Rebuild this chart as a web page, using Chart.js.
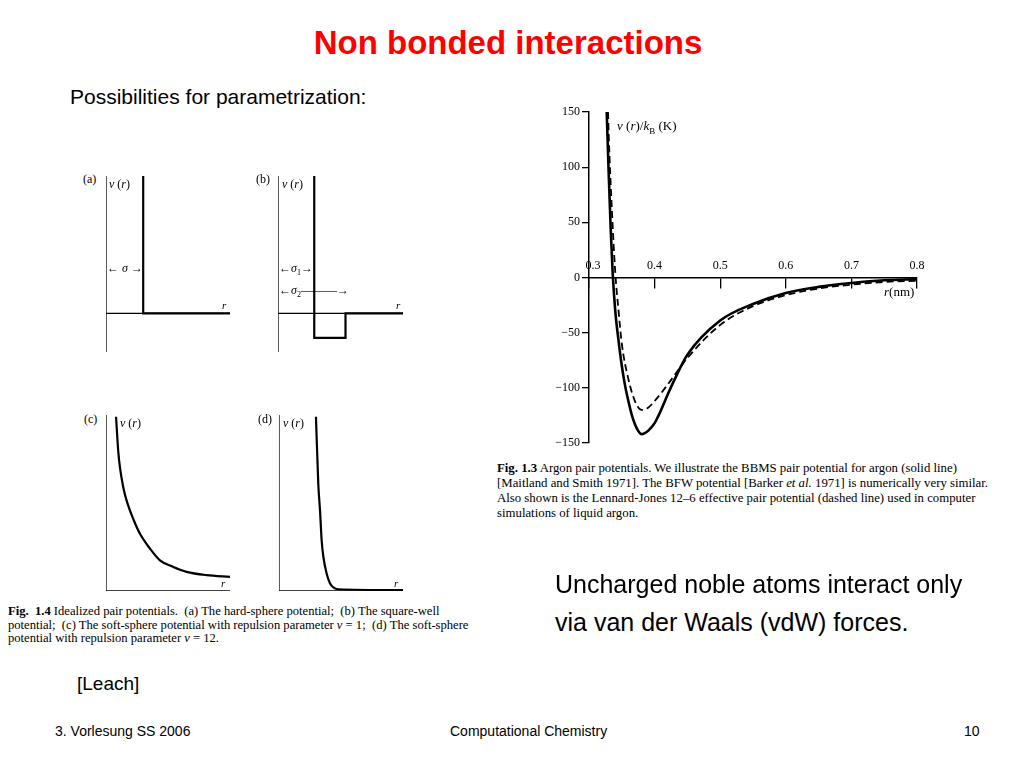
<!DOCTYPE html>
<html><head><meta charset="utf-8">
<script src="https://cdn.jsdelivr.net/npm/chart.js@4"></script>
<style>
body{margin:0;width:1024px;height:768px;background:#fff;position:relative;overflow:hidden;font-family:"Liberation Sans",Arial,sans-serif}
.t{position:absolute;white-space:nowrap;color:#000}
.s{font-family:"Liberation Serif","Times New Roman",serif}
canvas{position:absolute}
.cv{position:absolute}
</style></head><body>
<div class="t" style="left:0;width:1016px;top:24px;text-align:center;color:#ff0000;font-weight:bold;font-size:33px">Non bonded interactions</div>
<div class="t" style="left:70px;top:85px;font-size:21px">Possibilities for parametrization:</div>

<div class="cv" style="left:540px;top:100px;width:400px;height:360px"><canvas id="main"></canvas></div>
<div class="t s" style="left:617px;top:118px;font-size:13px"><i>v</i> (<i>r</i>)/<i>k</i><sub style="font-size:9px">B</sub> (K)</div>
<div class="t s" style="left:884px;top:284px;font-size:13px"><i>r</i>(nm)</div>
<div class="t s" style="left:497px;top:461px;font-size:12.8px;line-height:15px"><b>Fig. 1.3</b> Argon pair potentials. We illustrate the BBMS pair potential for argon (solid line)<br>[Maitland and Smith 1971]. The BFW potential [Barker <i>et al.</i> 1971] is numerically very similar.<br>Also shown is the Lennard-Jones 12–6 effective pair potential (dashed line) used in computer<br>simulations of liquid argon.</div>

<div class="cv" style="left:102px;top:172px;width:132px;height:184px"><canvas id="pa"></canvas></div>
<div class="cv" style="left:274px;top:172px;width:133px;height:184px"><canvas id="pb"></canvas></div>
<div class="cv" style="left:102px;top:411px;width:132px;height:184px"><canvas id="pc"></canvas></div>
<div class="cv" style="left:275px;top:411px;width:132px;height:184px"><canvas id="pd"></canvas></div>

<div class="t s" style="left:83px;top:172px;font-size:12px">(a)</div>
<div class="t s" style="left:109px;top:177px;font-size:12px"><i>v</i> (<i>r</i>)</div>
<div class="t s" style="left:107px;top:261px;font-size:12px">← <i>σ</i> →</div>
<div class="t s" style="left:222px;top:299px;font-size:11px"><i>r</i></div>
<div class="t s" style="left:256px;top:172px;font-size:12px">(b)</div>
<div class="t s" style="left:282px;top:177px;font-size:12px"><i>v</i> (<i>r</i>)</div>
<div class="t s" style="left:279px;top:261px;font-size:12px">←<i>σ</i><sub style="font-size:8px">1</sub>→</div>
<div class="t s" style="left:279px;top:283px;font-size:12px">←<i>σ</i><sub style="font-size:8px">2</sub>———→</div>
<div class="t s" style="left:396px;top:299px;font-size:11px"><i>r</i></div>
<div class="t s" style="left:84px;top:412px;font-size:12px">(c)</div>
<div class="t s" style="left:120px;top:416px;font-size:12px"><i>v</i> (<i>r</i>)</div>
<div class="t s" style="left:221px;top:577px;font-size:11px"><i>r</i></div>
<div class="t s" style="left:258px;top:412px;font-size:12px">(d)</div>
<div class="t s" style="left:283px;top:416px;font-size:12px"><i>v</i> (<i>r</i>)</div>
<div class="t s" style="left:394px;top:577px;font-size:11px"><i>r</i></div>
<div class="t s" style="left:8px;top:605px;font-size:12.6px;line-height:13.5px"><b>Fig. &nbsp;1.4</b> Idealized pair potentials. &nbsp;(a) The hard-sphere potential; &nbsp;(b) The square-well<br>potential; &nbsp;(c) The soft-sphere potential with repulsion parameter <i>ν</i> = 1; &nbsp;(d) The soft-sphere<br>potential with repulsion parameter <i>ν</i> = 12.</div>

<div class="t" style="left:555px;top:570px;font-size:25px">Uncharged noble atoms interact only</div>
<div class="t" style="left:555px;top:608px;font-size:25px">via van der Waals (vdW) forces.</div>
<div class="t" style="left:77px;top:673px;font-size:19px">[Leach]</div>
<div class="t" style="left:55px;top:723px;font-size:14px">3. Vorlesung SS 2006</div>
<div class="t" style="left:450px;top:723px;font-size:14px">Computational Chemistry</div>
<div class="t" style="left:964px;top:723px;font-size:14px">10</div>

<script>
// Argon pair potentials (Fig 1.3)
const rSolid = [0.327,0.33,0.333,0.336,0.34,0.345,0.35,0.355,0.36,0.365,0.37,0.375,0.38,0.385,0.39,0.40,0.41,0.42,0.43,0.45,0.50,0.55,0.60,0.65,0.70,0.75,0.80];
const vSolid = [150,95,45,5,-30,-57,-80,-98,-112,-124,-133,-139,-142,-141,-139,-132,-120,-106,-93,-70,-39,-24,-14,-8.5,-5,-2.5,-1.5];
const rDashed = [0.329,0.33,0.335,0.34,0.345,0.35,0.36,0.37,0.38,0.39,0.40,0.42,0.45,0.50,0.55,0.60,0.65,0.70,0.75,0.80];
const vDashed = [150,130,60,5,-30,-60,-92,-112,-120,-118,-112,-97,-73,-43,-26,-16,-10,-6.5,-4,-3];
const xTicks = [0.3,0.4,0.5,0.6,0.7,0.8];
const yTicks = [-150,-100,-50,0,50,100,150];
// Idealized potentials (Fig 1.4), schematic units
const rA = [3,3,10], vA = [7.8,0,0];
const rB = [2.9,2.9,5.4,5.4,10], vB = [7.8,-1.4,-1.4,0,0];
const rC = [0.81,0.99,1.13,1.40,1.67,2.20,2.74,3.55,4.35,5.43,6.5,8.12,10];
const vC = [10,8.0,7.06,5.93,5.17,4.13,3.28,2.43,1.76,1.38,1.10,0.91,0.81];
const rD = [2.98,3.17,3.31,3.44,3.58,3.84,4.11,4.38,4.78,10];
const vD = [10,6.12,4.6,2.9,1.95,1.0,0.44,0.21,0.1,0.05];

const pts=(xs,ys)=>xs.map((x,i)=>({x,y:ys[i]}));
const serif='"Liberation Serif","Times New Roman",serif';
Chart.defaults.animation=false;

const xLabels={id:'xl',afterDraw(c){const x=c.scales.x,y=c.scales.y,ctx=c.ctx;ctx.save();ctx.font='12px '+serif;ctx.fillStyle='#000';ctx.textAlign='center';ctx.textBaseline='bottom';
 const y0=y.getPixelForValue(0);xTicks.forEach(v=>{let px=x.getPixelForValue(v);if(v===0.3)px+=4;ctx.fillText(v.toFixed(1),px,y0-6);});ctx.restore();}};

new Chart(document.getElementById('main'),{type:'scatter',
 data:{datasets:[
  {data:pts(rSolid,vSolid),showLine:true,borderColor:'#000',borderWidth:2.6,pointRadius:0,cubicInterpolationMode:'monotone'},
  {data:pts(rDashed,vDashed),showLine:true,borderColor:'#000',borderWidth:1.8,borderDash:[7,4],pointRadius:0,cubicInterpolationMode:'monotone'}]},
 options:{responsive:true,maintainAspectRatio:false,layout:{padding:{top:12,right:23,bottom:17,left:0}},
  plugins:{legend:{display:false},tooltip:{enabled:false}},
  scales:{
   x:{type:'linear',min:0.3,max:0.8,position:{y:0},afterBuildTicks:s=>{s.ticks=xTicks.map(v=>({value:v}));},
      ticks:{display:false},grid:{drawOnChartArea:false,tickLength:10,color:'#000',lineWidth:1.3},border:{color:'#000',width:1.5}},
   y:{min:-150,max:150,afterBuildTicks:s=>{s.ticks=yTicks.map(v=>({value:v}));},afterFit:s=>{s.width=49;},
      ticks:{color:'#000',font:{family:serif,size:12},padding:2,callback:v=>v<0?'\u2212'+(-v):v},
      grid:{drawOnChartArea:false,tickLength:7,color:'#000',lineWidth:1.3},border:{color:'#000',width:1.5}}}},
 plugins:[xLabels]});

function small(id,xs,ys,ymin,ymax){
 const axes=[{data:[{x:0,y:ymin},{x:0,y:ymax}]},{data:[{x:0,y:0},{x:10,y:0}]}];
 const ds=axes.map(a=>({...a,showLine:true,borderColor:'#000',borderWidth:1.3,pointRadius:0}));
 ds.push({data:pts(xs,ys),showLine:true,borderColor:'#000',borderWidth:2.2,pointRadius:0,cubicInterpolationMode:'monotone'});
 new Chart(document.getElementById(id),{type:'scatter',data:{datasets:ds},
  options:{responsive:true,maintainAspectRatio:false,layout:{padding:4},plugins:{legend:{display:false},tooltip:{enabled:false}},
   scales:{x:{display:false,min:0,max:10},y:{display:false,min:ymin,max:ymax}}}});
}
small('pa',rA,vA,-2.2,7.8);
small('pb',rB,vB,-2.2,7.8);
small('pc',rC,vC,0,10.1);
small('pd',rD,vD,0,10.1);
</script>
</body></html>
